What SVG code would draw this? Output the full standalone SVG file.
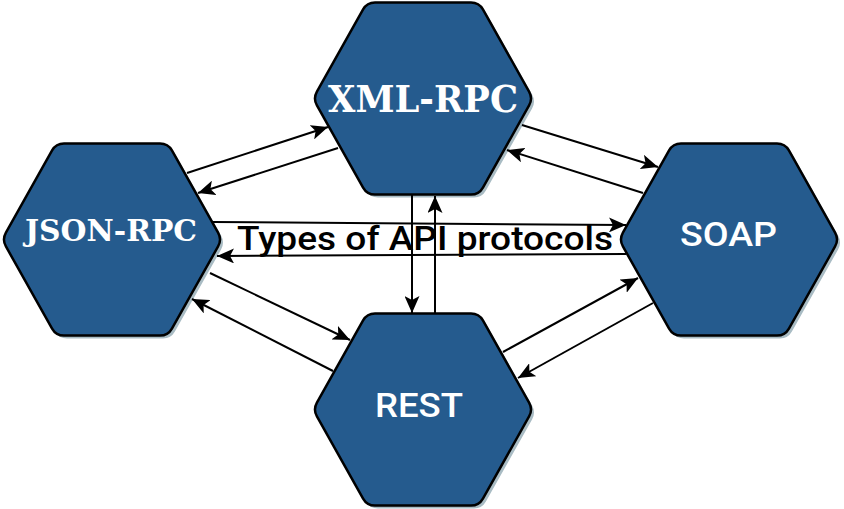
<svg xmlns="http://www.w3.org/2000/svg" xmlns:xlink="http://www.w3.org/1999/xlink" width="844" height="509" viewBox="0 0 844 509">
<defs>
<style>
.shadow{fill:#a9bcc4;stroke:none}
.hexshape{fill:#255b8e;stroke:#000;stroke-width:2.5;stroke-linejoin:round}
.serif{font-family:"DejaVu Serif","Liberation Serif",serif;font-weight:bold;fill:#fff;text-anchor:middle}
.sans{font-family:Roboto,"Liberation Sans",sans-serif;font-weight:500;fill:#fff;text-anchor:middle}
.title{font-family:Roboto,"Liberation Sans",sans-serif;font-weight:500;fill:#000;text-anchor:middle}
.conn{stroke:#000;stroke-width:2;fill:none;marker-end:url(#arr)}
</style>
<path id="hex" d="M -106.08,6.98 Q -110,0 -106.08,-6.98 L -59.92,-89.02 Q -56,-96 -48,-96 L 48,-96 Q 56,-96 59.92,-89.02 L 106.08,-6.98 Q 110,0 106.08,6.98 L 59.92,89.02 Q 56,96 48,96 L -48,96 Q -56,96 -59.92,89.02 Z"/>
<marker id="arr" markerUnits="userSpaceOnUse" markerWidth="19" markerHeight="15" refX="17" refY="7.5" orient="auto">
<path d="M0,0 L17,7.5 L0,15 L4,7.5 Z" fill="#000"/>
</marker>
</defs>
<rect width="844" height="509" fill="#fff"/>
<g id="node-xmlrpc">
<use xlink:href="#hex" class="shadow" transform="translate(426,101.5)"/>
<use xlink:href="#hex" class="hexshape" transform="translate(423,98.5)"/>
<text class="serif" x="423" y="112" font-size="37" textLength="190" lengthAdjust="spacingAndGlyphs">XML-RPC</text>
</g>
<g id="node-jsonrpc">
<use xlink:href="#hex" class="shadow" transform="translate(115,242.5)"/>
<use xlink:href="#hex" class="hexshape" transform="translate(112,239.5)"/>
<text class="serif" x="111" y="241" font-size="30" textLength="172" lengthAdjust="spacingAndGlyphs">JSON-RPC</text>
</g>
<g id="node-soap">
<use xlink:href="#hex" class="shadow" transform="translate(732,242.5)"/>
<use xlink:href="#hex" class="hexshape" transform="translate(729,239.5)"/>
<text class="sans" x="728.5" y="246" font-size="34" textLength="97" lengthAdjust="spacingAndGlyphs">SOAP</text>
</g>
<g id="node-rest">
<use xlink:href="#hex" class="shadow" transform="translate(426,412.5)"/>
<use xlink:href="#hex" class="hexshape" transform="translate(423,409.5)"/>
<text class="sans" x="419" y="417" font-size="34" textLength="88" lengthAdjust="spacingAndGlyphs">REST</text>
</g>
<g id="connectors">
<line class="conn" x1="187" y1="173" x2="328" y2="127"/>
<line class="conn" x1="338" y1="148" x2="198" y2="193"/>
<line class="conn" x1="522" y1="125" x2="658" y2="167"/>
<line class="conn" x1="643" y1="193" x2="507" y2="150"/>
<line class="conn" x1="213" y1="222" x2="626" y2="225"/>
<line class="conn" x1="626" y1="254" x2="217" y2="256"/>
<line class="conn" x1="412" y1="195" x2="412" y2="313"/>
<line class="conn" x1="435" y1="314" x2="435" y2="196"/>
<line class="conn" x1="210" y1="273" x2="350" y2="340"/>
<line class="conn" x1="333" y1="371" x2="192" y2="299"/>
<line class="conn" x1="503" y1="352" x2="638" y2="278"/>
<line class="conn" x1="653" y1="303" x2="518" y2="378"/>
</g>
<g id="label-title">
<text class="title" x="425" y="250" font-size="34" textLength="376" lengthAdjust="spacingAndGlyphs">Types of API protocols</text>
</g>
</svg>
